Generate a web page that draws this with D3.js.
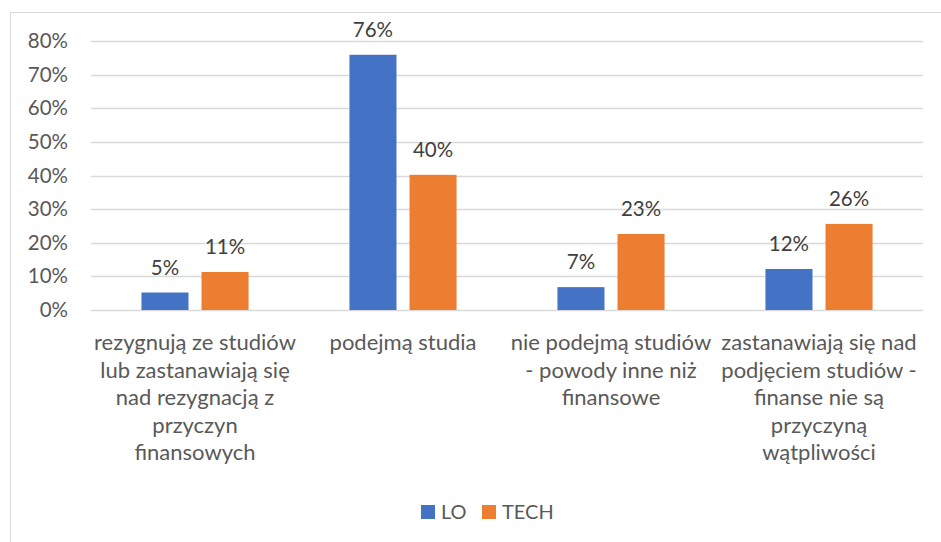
<!DOCTYPE html>
<html>
<head>
<meta charset="utf-8">
<script src="https://cdn.jsdelivr.net/npm/d3@7"></script>
<style>
  body { margin: 0; background: #fff; }
  svg { display: block; font-family: Lato, sans-serif; }
</style>
</head>
<body>
<div id="chart"></div>
<script>
// categories (already broken into lines as in the original)
const categories = [
  ["rezygnują ze studiów", "lub zastanawiają się", "nad rezygnacją z", "przyczyn", "finansowych"],
  ["podejmą studia"],
  ["nie podejmą studiów", "- powody inne niż", "finansowe"],
  ["zastanawiają się nad", "podjęciem studiów -", "finanse nie są", "przyczyną", "wątpliwości"]
];
const seriesNames = ["LO", "TECH"];
const loValues = [0.052, 0.759, 0.068, 0.122];
const techValues = [0.113, 0.402, 0.226, 0.256];
const yTicks = [0, 0.1, 0.2, 0.3, 0.4, 0.5, 0.6, 0.7, 0.8];
const colors = ["#4472C4", "#ED7D31"];

const width = 941, height = 542;
const margin = {left: 91, right: 18, top: 41, bottom: 232};

const svg = d3.select("#chart").append("svg")
  .attr("width", width)
  .attr("height", height);

// chart area border
svg.append("rect")
  .attr("x", 10.5).attr("y", 12.5)
  .attr("width", width).attr("height", height)
  .attr("fill", "none")
  .attr("stroke", "#D9D9D9");

const x = d3.scaleBand()
  .domain(d3.range(categories.length))
  .range([margin.left, width - margin.right]);

const x1 = d3.scaleBand()
  .domain(seriesNames)
  .range([0, x.bandwidth()])
  .paddingInner(0.217)
  .paddingOuter(0.84);

const y = d3.scaleLinear()
  .domain([0, 0.8])
  .range([height - margin.bottom, margin.top]);

// gridlines
svg.append("g")
  .selectAll("line")
  .data(yTicks)
  .join("line")
  .attr("x1", margin.left)
  .attr("x2", width - margin.right)
  .attr("y1", d => Math.round(y(d)) + 0.5)
  .attr("y2", d => Math.round(y(d)) + 0.5)
  .attr("stroke", "#D9D9D9")
  .attr("stroke-width", 1.3);

// y axis labels
const yAxis = svg.append("g")
  .attr("transform", `translate(${margin.left},0)`)
  .call(d3.axisLeft(y).tickValues(yTicks).tickFormat(d3.format(".0%")).tickSize(0).tickPadding(23));
yAxis.select(".domain").remove();
yAxis.selectAll("text")
  .attr("fill", "#595959")
  .style("font-size", "20.5px")
  .style("font-family", "Lato");

const rows = categories.map((c, i) => ({i, values: [loValues[i], techValues[i]]}));

const groups = svg.append("g")
  .selectAll("g")
  .data(rows)
  .join("g")
  .attr("transform", d => `translate(${x(d.i)},0)`);

groups.selectAll("rect")
  .data(d => d.values.map((v, k) => ({k, v})))
  .join("rect")
  .attr("x", d => x1(seriesNames[d.k]))
  .attr("width", x1.bandwidth())
  .attr("y", d => y(d.v))
  .attr("height", d => y(0) - y(d.v))
  .attr("fill", d => colors[d.k]);

groups.selectAll("text.lbl")
  .data(d => d.values.map((v, k) => ({k, v})))
  .join("text")
  .attr("class", "lbl")
  .attr("x", d => x1(seriesNames[d.k]) + x1.bandwidth() / 2)
  .attr("y", d => y(d.v) - 18)
  .attr("text-anchor", "middle")
  .attr("fill", "#404040")
  .style("font-size", "20.5px")
  .text(d => d3.format(".0%")(d.v));

// category labels
const xAxis = svg.append("g")
  .selectAll("text")
  .data(categories)
  .join("text")
  .attr("text-anchor", "middle")
  .attr("fill", "#595959")
  .style("font-size", "22px")
  .attr("x", (d, i) => x(i) + x.bandwidth() / 2)
  .attr("y", 350);
xAxis.selectAll("tspan")
  .data(d => d)
  .join("tspan")
  .attr("x", function() { return this.parentNode.getAttribute("x"); })
  .attr("dy", (d, j) => j === 0 ? 0 : 27.5)
  .text(d => d);

// legend
const legend = svg.append("g")
  .attr("transform", "translate(421,505)");
const legendX = [0, 61];
seriesNames.forEach((name, k) => {
  const g = legend.append("g").attr("transform", `translate(${legendX[k]},0)`);
  g.append("rect").attr("width", 14).attr("height", 14).attr("fill", colors[k]);
  g.append("text")
    .attr("x", 20).attr("y", 14)
    .attr("fill", "#595959")
    .style("font-size", "20px")
    .text(name);
});
</script>
</body>
</html>
